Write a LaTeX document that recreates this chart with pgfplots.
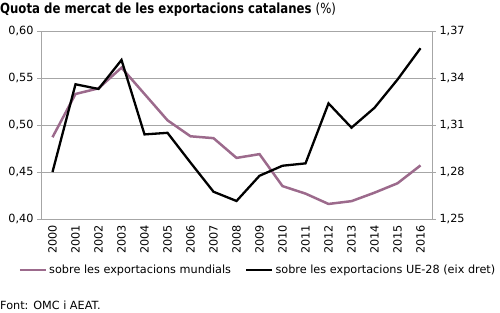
\documentclass[border=0pt]{standalone}
\usepackage{pgfplots}
\pgfplotsset{compat=1.18}
\usepackage{fontspec}
\setmainfont{DejaVu Sans}
\definecolor{purp}{HTML}{9C6A8C}
\definecolor{gridc}{HTML}{A6A6A6}
\newcommand{\tfont}{\fontsize{11.3}{13}\selectfont}
\begin{document}
\begin{tikzpicture}[x=1bp,y=1bp]
\useasboundingbox (0,0) rectangle (500,312);
\node[anchor=west,inner sep=0pt] at (0,302) {\scalebox{0.84}[1]{\fontsize{14}{15}\selectfont\bfseries Quota de mercat de les exportacions catalanes \mdseries(\%)}};
\begin{axis}[
  at={(41bp,93bp)}, anchor=south west,
  width=391bp, height=188bp, scale only axis,
  xmin=-0.5, xmax=16.5, ymin=0.40, ymax=0.60,
  xtick={0,...,16},
  xticklabels={2000,2001,2002,2003,2004,2005,2006,2007,2008,2009,2010,2011,2012,2013,2014,2015,2016},
  xticklabel style={rotate=90, anchor=east, font=\tfont, inner sep=2bp},
  x tick style={draw=none},
  ytick={0.40,0.45,0.50,0.55,0.60},
  ytick pos=left, tick align=outside, major tick length=4bp,
  y tick style={gridc},
  yticklabel style={font=\tfont},
  /pgf/number format/.cd, use comma, fixed, fixed zerofill, precision=2, assume math mode=true,
  /pgfplots/.cd,
  ymajorgrids, grid style={gridc, line width=0.8bp},
  axis line style={gridc, line width=0.8bp},
  legend style={at={(0.555,-0.271)}, anchor=center, draw=none, fill=none, legend columns=2,
     font=\tfont, inner sep=0pt, nodes={inner sep=2bp},
     /tikz/every even column/.append style={column sep=12bp}},
  legend cell align=left,
  legend image code/.code={\draw[#1] (0bp,0bp) -- (26bp,0bp);},
]
\addplot[purp, line width=2.5bp] coordinates {
(0,0.487) (1,0.533) (2,0.539) (3,0.561) (4,0.533) (5,0.505) (6,0.488) (7,0.486) (8,0.465)
(9,0.469) (10,0.435) (11,0.427) (12,0.416) (13,0.419) (14,0.428) (15,0.438) (16,0.457)};
\addlegendentry{sobre les exportacions mundials}
\addlegendimage{black, line width=2.5bp}
\addlegendentry{sobre les exportacions UE-28 (eix dret)}
\end{axis}
\begin{axis}[
  at={(41bp,93bp)}, anchor=south west,
  width=391bp, height=188bp, scale only axis,
  xmin=-0.5, xmax=16.5, ymin=1.25, ymax=1.37,
  axis x line=none, axis y line*=right,
  ytick={1.25,1.28,1.31,1.34,1.37},
  tick align=outside, major tick length=4bp,
  y tick style={gridc},
  yticklabel style={font=\tfont},
  /pgf/number format/.cd, use comma, fixed, fixed zerofill, precision=2, assume math mode=true,
  /pgfplots/.cd,
  axis line style={gridc, line width=0.8bp},
]
\addplot[black, line width=2.3bp] coordinates {
(0,1.280) (1,1.336) (2,1.333) (3,1.3515) (4,1.304) (5,1.305) (6,1.286) (7,1.2674) (8,1.2615)
(9,1.2776) (10,1.284) (11,1.2855) (12,1.3238) (13,1.3083) (14,1.321) (15,1.339) (16,1.359)};
\end{axis}
\node[anchor=west,inner sep=0pt] at (0,7) {\tfont Font: OMC i AEAT.};
\end{tikzpicture}
\end{document}
